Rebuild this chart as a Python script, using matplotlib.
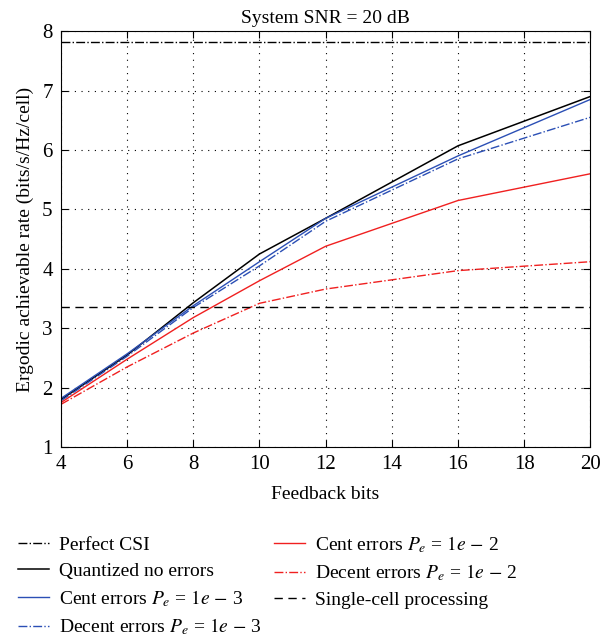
import numpy as np
import matplotlib.pyplot as plt

plt.rcParams['font.family'] = ['Liberation Serif', 'DejaVu Serif']
plt.rcParams['mathtext.fontset'] = 'stix'

bits = [4, 6, 8, 10, 12, 16, 20]
quantized = [1.80, 2.55, 3.43, 4.25, 4.85, 6.07, 6.90]
cent_3 = [1.82, 2.57, 3.38, 4.12, 4.85, 5.90, 6.85]
decent_3 = [1.78, 2.53, 3.35, 4.05, 4.80, 5.85, 6.55]
cent_2 = [1.75, 2.48, 3.18, 3.80, 4.38, 5.15, 5.60]
decent_2 = [1.72, 2.35, 2.92, 3.42, 3.66, 3.97, 4.12]
perfect_csi = 7.82
single_cell = 3.36

fig = plt.figure(figsize=(6, 6.36), dpi=100)
ax = fig.add_axes([0.1017, 0.297, 0.882, 0.654])

ax.plot([4, 20], [perfect_csi] * 2, color='black', ls='-.', lw=1, label='Perfect CSI')
ax.plot(bits, quantized, color='black', lw=1.1, label='Quantized no errors')
ax.plot(bits, cent_3, color='#2b4fb5', lw=1, label='Cent errors $P_e$ = $1e$ $-$ 3')
ax.plot(bits, decent_3, color='#2b4fb5', ls='-.', lw=1, label='Decent errors $P_e$ = $1e$ $-$ 3')
ax.plot(bits, cent_2, color='#f02020', lw=1, label='Cent errors $P_e$ = $1e$ $-$ 2')
ax.plot(bits, decent_2, color='#f02020', ls='-.', lw=1, label='Decent errors $P_e$ = $1e$ $-$ 2')
ax.plot([4, 20], [single_cell] * 2, color='black', ls=(0, (6, 4)), lw=1, label='Single-cell processing')

ax.set_xlim(4, 20)
ax.set_ylim(1, 8)
ax.set_xticks(range(4, 21, 2))
ax.set_yticks(range(1, 9))
ax.grid(True, color='black', ls=(0, (1, 5)), lw=0.8)
ax.tick_params(direction='in', top=True, right=True, labelsize=15, length=5, pad=6)
ax.set_xlabel('Feedback bits', fontsize=14, labelpad=8)
ax.set_ylabel('Ergodic achievable rate (bits/s/Hz/cell)', fontsize=14, labelpad=6)
ax.set_title('System SNR = 20 dB', fontsize=14, pad=6)

handles, labels = ax.get_legend_handles_labels()
fig.legend(handles, labels,
           loc='upper left', bbox_to_anchor=(0.0, 0.188), ncol=2, frameon=False,
           fontsize=14, handlelength=1.6, labelspacing=0.42, columnspacing=0.6,
           handletextpad=0.55)

fig.savefig('out.png', dpi=100)
